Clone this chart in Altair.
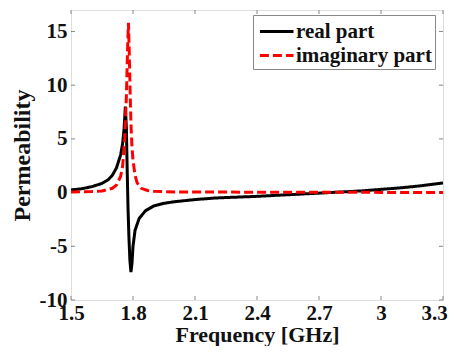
import altair as alt
import pandas as pd

# Real part
real_freq = [1.50, 1.55, 1.60, 1.65, 1.68, 1.70, 1.72, 1.74, 1.75, 1.757, 1.763, 1.768, 1.772, 1.776,
             1.780, 1.785, 1.790, 1.795, 1.800, 1.810, 1.830, 1.860, 1.900, 1.950, 2.00, 2.10,
             2.20, 2.40, 2.60, 2.70, 2.80, 2.90, 3.00, 3.10, 3.20, 3.30]
real_val = [0.25, 0.35, 0.55, 0.85, 1.2, 1.6, 2.3, 3.5, 4.6, 6.0, 8.0, 6.0, 2.0, -1.5,
            -4.0, -6.3, -7.4, -6.6, -5.0, -3.5, -2.4, -1.7, -1.25, -1.0, -0.85, -0.65,
            -0.5, -0.35, -0.15, -0.05, 0.05, 0.15, 0.3, 0.45, 0.65, 0.9]

# Imaginary part
imag_freq = [1.50, 1.60, 1.65, 1.70, 1.72, 1.74, 1.75, 1.76, 1.768, 1.774, 1.778, 1.782, 1.786,
             1.790, 1.795, 1.800, 1.810, 1.820, 1.840, 1.870, 1.900, 2.00, 2.50, 3.00, 3.30]
imag_val = [0.05, 0.1, 0.15, 0.4, 0.7, 1.5, 2.5, 5.0, 9.0, 13.5, 15.8, 13.0, 9.5,
            6.5, 4.2, 3.0, 1.6, 0.9, 0.4, 0.2, 0.12, 0.06, 0.03, 0.02, 0.02]

series_names = ["real part", "imaginary part"]
x_ticks = [1.5, 1.8, 2.1, 2.4, 2.7, 3.0, 3.3]
y_ticks = [-10, -5, 0, 5, 10, 15]

rows = []
for f, v in zip(real_freq, real_val):
    rows.append({"freq": f, "value": v, "series": series_names[0]})
for f, v in zip(imag_freq, imag_val):
    rows.append({"freq": f, "value": v, "series": series_names[1]})
df = pd.DataFrame(rows)

FONT = "Liberation Serif"
W, H = 372, 290

xscale = alt.Scale(domain=[1.5, 3.3], nice=False, zero=False)
yscale = alt.Scale(domain=[-10, 17], nice=False, zero=False)

legend_kw = dict(title=None, orient="none", legendX=182, legendY=5,
                 symbolType="M-0.8,0L2,0", symbolSize=576, symbolStrokeWidth=3,
                 labelFont=FONT, labelFontSize=21, labelFontWeight="bold",
                 labelColor="#111", strokeColor="#888", fillColor="white",
                 padding=3, rowPadding=-1, labelOffset=13, labelLimit=300)

lines = alt.Chart(df).mark_line(strokeWidth=3, clip=True).encode(
    x=alt.X("freq:Q", scale=xscale,
            axis=alt.Axis(values=x_ticks, title="Frequency [GHz]", format="~g",
                          grid=False, domain=False, ticks=False, labelPadding=2,
                          labelFont=FONT, labelFontSize=21, labelFontWeight="bold",
                          labelColor="#111", titleFont=FONT, titleFontSize=22,
                          titleFontWeight="bold", titleColor="#111", titlePadding=1,
                          labelFlush=False,
                          labelOffset={"condition": {"test": "datum.value >= 3.3", "value": -9}, "value": 0})),
    y=alt.Y("value:Q", scale=yscale,
            axis=alt.Axis(values=y_ticks, title="Permeability",
                          labelExpr="datum.value < 0 ? '-' + abs(datum.value) : '' + datum.value",
                          grid=False, domain=False, ticks=False, labelPadding=4,
                          labelFont=FONT, labelFontSize=21, labelFontWeight="bold",
                          labelColor="#111", titleFont=FONT, titleFontSize=24,
                          titleFontWeight="bold", titleColor="#111", titlePadding=5)),
    color=alt.Color("series:N", scale=alt.Scale(domain=series_names, range=["#000000", "#ff0000"]),
                    legend=alt.Legend(**legend_kw)),
    strokeDash=alt.StrokeDash("series:N", scale=alt.Scale(domain=series_names, range=[[1, 0], [9, 4]]),
                              legend=alt.Legend(**legend_kw)),
)

xt = pd.DataFrame({"t": x_ticks})
yt = pd.DataFrame({"t": y_ticks})
tick_color = "#888"
xb = alt.Chart(xt).mark_rule(color=tick_color, strokeWidth=1).encode(
    x=alt.X("t:Q", scale=xscale), y=alt.value(H), y2=alt.value(H - 4))
xtop = alt.Chart(xt).mark_rule(color=tick_color, strokeWidth=1).encode(
    x=alt.X("t:Q", scale=xscale), y=alt.value(0), y2=alt.value(4))
yl = alt.Chart(yt).mark_rule(color=tick_color, strokeWidth=1).encode(
    y=alt.Y("t:Q", scale=yscale), x=alt.value(0), x2=alt.value(4))
yr = alt.Chart(yt).mark_rule(color=tick_color, strokeWidth=1).encode(
    y=alt.Y("t:Q", scale=yscale), x=alt.value(W), x2=alt.value(W - 4))

chart = alt.layer(xb, xtop, yl, yr, lines).properties(
    width=W, height=H,
    padding={"left": 63, "top": 2, "right": 5, "bottom": 46},
    autosize=alt.AutoSizeParams(type="none"),
).configure_view(stroke="#888", strokeWidth=1.5).configure(
    background="white", font=FONT)

chart.save("out.html", embed_options={"renderer": "svg", "actions": False})
